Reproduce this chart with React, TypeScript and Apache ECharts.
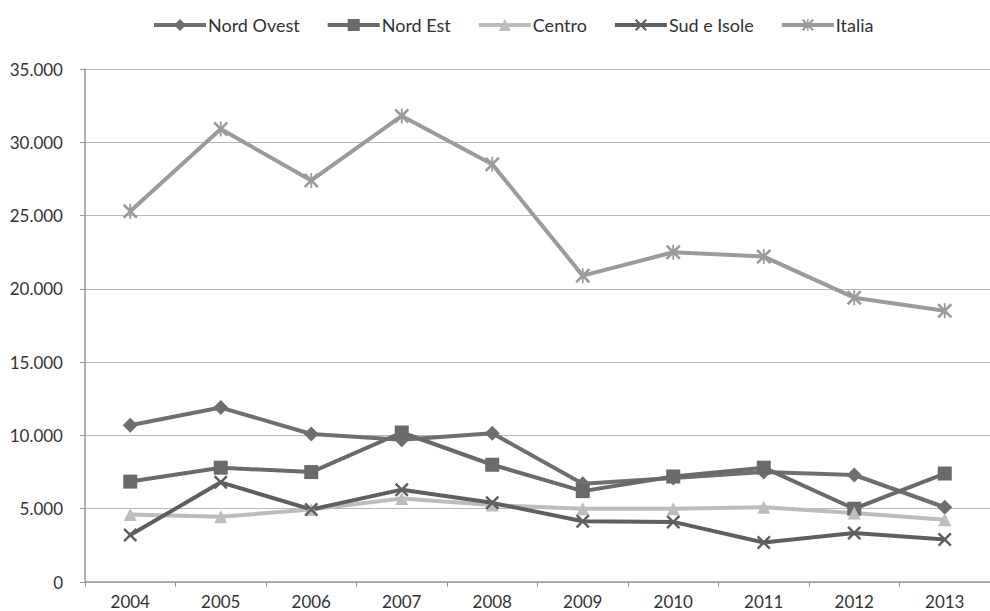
import React, { useEffect, useRef } from "react";
import * as echarts from "echarts";

const years = ["2004", "2005", "2006", "2007", "2008", "2009", "2010", "2011", "2012", "2013"];
const nordOvest = [10700, 11900, 10100, 9700, 10150, 6700, 7100, 7500, 7300, 5100];
const nordEst = [6850, 7800, 7500, 10200, 8000, 6200, 7200, 7800, 5000, 7400];
const centro = [4600, 4450, 4950, 5700, 5250, 5000, 5000, 5100, 4700, 4250];
const sudIsole = [3200, 6800, 4950, 6300, 5400, 4150, 4100, 2700, 3350, 2900];
const italia = [25300, 30900, 27400, 31800, 28500, 20900, 22500, 22200, 19400, 18500];
const yTicks = [0, 5000, 10000, 15000, 20000, 25000, 30000, 35000];

const X_PATH =
  "path://M0,2.5L2.5,0L10,7.5L17.5,0L20,2.5L12.5,10L20,17.5L17.5,20L10,12.5L2.5,20L0,17.5L7.5,10Z";
const STAR_PATH =
  "path://M0,2.5L2.5,0L10,7.5L17.5,0L20,2.5L12.5,10L20,17.5L17.5,20L10,12.5L2.5,20L0,17.5L7.5,10ZM8.8,0L11.2,0L11.2,20L8.8,20Z";

const FONT = "Lato, 'Open Sans', sans-serif";

export default function App() {
  const ref = useRef<HTMLDivElement>(null);
  useEffect(() => {
    if (!ref.current) return;
    const chart = echarts.init(ref.current, undefined, { renderer: "svg" });
    const mk = (name: string, data: number[], color: string, symbol: string, size: number) => ({
      name,
      type: "line",
      data,
      symbol,
      symbolSize: size,
      lineStyle: { color, width: 4 },
      itemStyle: { color },
      z: 3,
    });
    chart.setOption({
      animation: false,
      backgroundColor: "#ffffff",
      textStyle: { fontFamily: FONT },
      legend: {
        top: 11,
        left: 147,
        itemWidth: 52,
        itemHeight: 15,
        itemGap: 26,
        lineStyle: { width: 4 },
        textStyle: { fontSize: 18, color: "#333", fontFamily: FONT, padding: [0, 0, 0, -3] },
        data: ["Nord Ovest", "Nord Est", "Centro", "Sud e Isole", "Italia"],
      },
      grid: { left: 85, right: -12, top: 69, bottom: 29 },
      xAxis: {
        type: "category",
        data: years,
        boundaryGap: true,
        axisLine: { lineStyle: { color: "#999", width: 1.5 } },
        axisTick: { show: true, length: 5, lineStyle: { color: "#999" } },
        axisLabel: { fontSize: 17, color: "#333", margin: 11, fontFamily: FONT },
      },
      yAxis: {
        type: "value",
        min: 0,
        max: 35000,
        interval: 5000,
        axisLine: { show: true, lineStyle: { color: "#999", width: 1.5 } },
        axisTick: { show: true, inside: false, length: 5, lineStyle: { color: "#999" } },
        axisLabel: {
          fontSize: 17,
          color: "#333",
          margin: 22,
          fontFamily: FONT,
          formatter: (v: number) => (yTicks.indexOf(v) >= 0 ? (v === 0 ? "0" : v / 1000 + ".000") : ""),
        },
        splitLine: { lineStyle: { color: "#b8b8b8", width: 1 } },
      },
      series: [
        mk("Nord Ovest", nordOvest, "#6f6f6f", "diamond", 15),
        mk("Nord Est", nordEst, "#6a6a6a", "rect", 14),
        mk("Centro", centro, "#bdbdbd", "triangle", 13),
        mk("Sud e Isole", sudIsole, "#5f5f5f", X_PATH, 14),
        mk("Italia", italia, "#9b9b9b", STAR_PATH, 15),
      ],
    });
    return () => chart.dispose();
  }, []);
  return <div ref={ref} style={{ width: 990, height: 611, position: "absolute", left: 0, top: 0 }} />;
}
